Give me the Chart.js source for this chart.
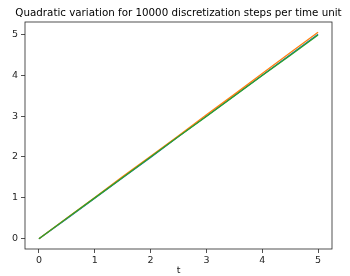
<!DOCTYPE html>
<html>
<head>
<meta charset="utf-8">
<script src="https://cdn.jsdelivr.net/npm/chart.js@4/dist/chart.umd.min.js"></script>
<style>
  html, body { margin: 0; padding: 0; background: #fff; }
  #wrap { width: 350px; height: 276px; }
</style>
</head>
<body>
<div id="wrap"><canvas id="qv"></canvas></div>
<script>
// ── Data ────────────────────────────────────────────────────────

const TITLE = "Quadratic variation for 10000 discretization steps per time unit";
const tValues   = [0, 0.5, 1, 1.5, 2, 2.5, 3, 3.5, 4, 4.5, 5];
const pathBlue   = [0, 0.49, 0.99, 1.49, 1.99, 2.50, 3.00, 3.50, 4.00, 4.50, 5.00];
const pathOrange = [0, 0.51, 1.01, 1.52, 2.02, 2.52, 3.03, 3.53, 4.04, 4.55, 5.05];
const pathGreen  = [0, 0.50, 1.00, 1.50, 2.00, 2.50, 2.99, 3.49, 3.99, 4.48, 4.98];
const xTicks = [0, 1, 2, 3, 4, 5];
const yTicks = [0, 1, 2, 3, 4, 5];

const FONT = "DejaVu Sans";
const INK = "#262626";

function toPoints(ys) {
  return ys.map((y, i) => ({ x: tValues[i], y }));
}

// matplotlib draws later series on top; in Chart.js higher order = further back
function series(label, ys, color, order) {
  return {
    label,
    data: toPoints(ys),
    borderColor: color,
    backgroundColor: color,
    borderWidth: 1.3,
    pointRadius: 0,
    tension: 0,
    fill: false,
    order,
  };
}

// ── Frame + title (matplotlib-like) ─────────────────────────────

const framePlugin = {
  id: "frame",
  afterDraw(chart) {
    const { ctx, chartArea: a } = chart;
    ctx.save();
    ctx.strokeStyle = INK;
    ctx.lineWidth = 0.8;
    ctx.strokeRect(a.left, a.top, a.right - a.left, a.bottom - a.top);
    ctx.fillStyle = "#000";
    ctx.font = `10.3px "${FONT}"`;
    ctx.textAlign = "center";
    ctx.textBaseline = "middle";
    ctx.fillText(TITLE, (a.left + a.right) / 2, 13);
    ctx.restore();
  },
};

const tickFont = { family: FONT, size: 9.5 };

new Chart(document.getElementById("qv"), {
  type: "line",
  data: {
    datasets: [
      series("blue", pathBlue, "#1f77b4", 2),
      series("orange", pathOrange, "#ff7f0e", 1),
      series("green", pathGreen, "#2ca02c", 0),
    ],
  },
  options: {
    responsive: true,
    maintainAspectRatio: false,
    animation: false,
    layout: { padding: { top: 22, right: 18, left: 0, bottom: 0 } },
    plugins: {
      legend: { display: false },
      tooltip: { enabled: false },
      title: { display: false },
    },
    scales: {
      x: {
        type: "linear",
        min: -0.25,
        max: 5.25,
        afterBuildTicks: (s) => { s.ticks = xTicks.map(v => ({ value: v })); },
        afterFit: (s) => { s.height = 27; },
        grid: { display: true, drawOnChartArea: false, drawTicks: true, tickLength: 4, color: INK, lineWidth: 0.8 },
        border: { display: false },
        ticks: { font: tickFont, color: INK, padding: 2, maxRotation: 0 },
        title: { display: true, text: "t", font: tickFont, color: INK, padding: { top: 0, bottom: 0 } },
      },
      y: {
        type: "linear",
        min: -0.25,
        max: 5.3,
        afterBuildTicks: (s) => { s.ticks = yTicks.map(v => ({ value: v })); },
        afterFit: (s) => { s.width = 25; },
        grid: { display: true, drawOnChartArea: false, drawTicks: true, tickLength: 4, color: INK, lineWidth: 0.8 },
        border: { display: false },
        ticks: { font: tickFont, color: INK, padding: 3 },
      },
    },
  },
  plugins: [framePlugin],
});
</script>
</body>
</html>
